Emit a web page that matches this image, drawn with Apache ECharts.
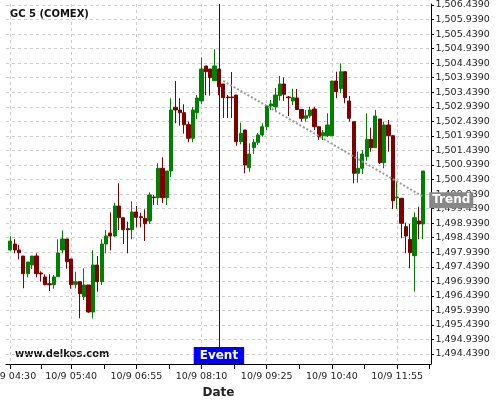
<!DOCTYPE html>
<html>
<head>
<meta charset="utf-8">
<script src="https://cdn.jsdelivr.net/npm/echarts@6/dist/echarts.min.js"></script>
<style>html,body{margin:0;padding:0;background:#fff}#c{width:500px;height:400px}</style>
</head>
<body>
<div id="c"></div>
<script>
const times = ["04:30","04:35","04:40","04:45","04:50","04:55","05:00","05:05","05:10","05:15",
"05:20","05:25","05:30","05:35","05:40","05:45","05:50","05:55","06:00","06:05",
"06:10","06:15","06:20","06:25","06:30","06:35","06:40","06:45","06:50","06:55",
"07:00","07:05","07:10","07:15","07:20","07:25","07:30","07:35","07:40","07:45",
"07:50","07:55","08:00","08:05","08:10","08:15","08:20","08:25","08:30","08:35",
"08:40","08:45","08:50","08:55","09:00","09:05","09:10","09:15","09:20","09:25",
"09:30","09:35","09:40","09:45","09:50","09:55","10:00","10:05","10:10","10:15",
"10:20","10:25","10:30","10:35","10:40","10:45","10:50","10:55","11:00","11:05",
"11:10","11:15","11:20","11:25","11:30","11:35","11:40","11:45","11:50","11:55",
"12:00","12:05","12:10","12:15","12:20","12:25"];

const openV = [1498.015,1498.221,1498.015,1497.808,1497.200,1497.499,1497.808,1497.224,1497.086,1496.856,
1496.822,1497.097,1498.015,1498.393,1497.705,1496.835,1496.925,1496.409,1496.811,1495.883,
1497.499,1496.925,1498.221,1498.599,1498.496,1499.528,1499.125,1498.747,1498.713,1499.321,
1499.160,1499.105,1499.012,1499.837,1499.813,1500.824,1499.813,1500.731,1502.922,1502.829,
1502.736,1502.323,1501.856,1502.736,1503.138,1504.342,1504.238,1503.836,1504.238,1503.723,
1503.276,1503.276,1503.344,1501.739,1502.141,1500.845,1501.532,1501.718,1501.969,1502.254,
1502.966,1502.942,1503.320,1503.723,1503.276,1503.138,1503.241,1502.846,1502.543,1502.633,
1502.863,1502.254,1501.945,1501.945,1501.945,1503.826,1503.568,1504.146,1503.138,1502.426,
1500.652,1500.824,1501.223,1501.821,1501.532,1502.519,1501.017,1502.313,1501.945,1499.813,
1499.792,1498.816,1498.383,1497.819,1499.012,1498.909];

const closeV = [1498.324,1498.015,1497.922,1497.200,1497.602,1497.808,1497.200,1497.190,1496.822,1496.822,
1497.086,1497.912,1498.393,1497.612,1496.822,1496.925,1496.512,1496.811,1495.883,1497.499,
1496.925,1498.221,1498.496,1498.496,1499.528,1499.125,1498.713,1498.713,1499.321,1499.139,
1499.125,1498.919,1499.906,1499.813,1500.824,1499.813,1500.731,1502.829,1502.829,1502.736,
1502.323,1501.856,1502.829,1503.241,1504.238,1504.146,1503.939,1504.342,1503.630,1503.252,
1503.252,1503.252,1501.739,1502.027,1500.937,1501.316,1501.718,1501.969,1502.254,1502.966,
1503.035,1503.344,1503.723,1503.368,1503.252,1503.252,1502.846,1502.543,1502.633,1502.829,
1502.254,1501.911,1502.048,1502.313,1503.826,1503.458,1504.146,1503.252,1502.543,1500.652,
1500.824,1501.316,1501.821,1501.532,1502.622,1501.017,1502.313,1501.945,1499.710,1499.837,
1498.933,1498.496,1497.922,1499.125,1498.909,1500.731];

const lowV = [1497.991,1497.901,1497.695,1496.698,1497.076,1497.361,1497.076,1496.925,1496.801,1496.605,
1496.684,1497.097,1497.901,1497.372,1496.684,1496.698,1495.666,1496.295,1495.859,1495.666,
1496.581,1496.811,1497.901,1498.004,1498.472,1498.702,1498.221,1497.901,1498.383,1498.795,
1498.795,1498.324,1498.909,1499.562,1499.562,1499.631,1499.562,1500.525,1502.371,1502.289,
1502.014,1501.718,1501.718,1502.509,1503.025,1503.334,1503.320,1503.836,1503.344,1502.554,
1502.554,1502.554,1501.601,1501.649,1500.652,1500.707,1501.316,1501.625,1501.911,1502.141,
1502.829,1502.805,1503.148,1503.145,1502.622,1503.001,1502.829,1502.426,1502.426,1502.554,
1502.141,1501.797,1501.797,1501.900,1501.935,1503.231,1503.403,1503.059,1502.426,1500.308,
1500.329,1500.628,1501.085,1501.395,1501.532,1500.972,1500.824,1501.395,1499.425,1499.425,
1498.417,1497.901,1497.385,1496.581,1498.383,1498.383];

const highV = [1498.486,1498.383,1498.197,1497.808,1497.602,1497.808,1497.901,1497.282,1497.179,1497.179,
1497.155,1498.383,1498.692,1498.393,1497.705,1497.269,1496.925,1497.385,1496.811,1498.004,
1497.808,1498.383,1498.702,1499.311,1499.641,1500.308,1499.125,1498.988,1499.689,1499.528,
1499.297,1499.414,1499.999,1499.906,1500.996,1501.202,1500.731,1503.231,1503.826,1503.231,
1503.025,1502.426,1502.922,1503.344,1504.634,1504.342,1504.238,1504.916,1504.238,1503.723,
1503.344,1504.135,1503.344,1502.392,1502.141,1501.684,1501.831,1502.038,1502.371,1503.001,
1503.172,1503.585,1503.998,1503.946,1503.310,1503.561,1503.551,1502.846,1502.829,1502.942,
1502.942,1502.254,1502.141,1502.715,1503.826,1504.146,1504.434,1504.146,1503.310,1502.426,
1501.395,1501.453,1502.715,1502.220,1502.829,1502.519,1502.426,1502.485,1501.945,1500.363,
1499.792,1498.953,1498.909,1499.311,1499.504,1500.731];

const xTickLabels = ["10/9 04:30","10/9 05:40","10/9 06:55","10/9 08:10","10/9 09:25","10/9 10:40","10/9 11:55"];
const eventTime = "08:30";
const eventText = "Event";
const trendStart = ["08:35", 1503.83];
const trendEnd = ["12:25", 1499.85];
const trendText = "Trend";
const titleText = "GC 5 (COMEX)";
const sourceText = "www.delkos.com";
const xName = "Date";

const BASE = 4 * 60 + 25; // axis origin 04:25
function tmin(t) { const p = t.split(':'); return (+p[0]) * 60 + (+p[1]) - BASE; }
function fmtY(v) {
  const s = v.toFixed(4); const p = s.split('.');
  return p[0].replace(/\B(?=(\d{3})+(?!\d))/g, ',') + '.' + p[1];
}
const majorVals = xTickLabels.map(l => tmin(l.split(' ')[1]));
const labelMap = {}; majorVals.forEach((v, i) => labelMap[v] = xTickLabels[i]);
const minorVals = [];
for (let i = 0; i < majorVals.length; i++) {
  const next = i + 1 < majorVals.length ? majorVals[i + 1] : majorVals[i] + 75;
  minorVals.push((majorVals[i] + next) / 2);
}
const candles = times.map((t, i) => [tmin(t), openV[i], closeV[i], lowV[i], highV[i]]);

const FONT = 'DejaVu Sans';
const chart = echarts.init(document.getElementById('c'), null, { renderer: 'canvas' });
chart.setOption({
  animation: false,
  backgroundColor: '#fff',
  textStyle: { fontFamily: FONT },
  title: { text: titleText, left: 10, top: 9, padding: 0,
    textStyle: { fontFamily: FONT, fontSize: 10, fontWeight: 'bold', color: '#111' } },
  graphic: [{ type: 'text', left: 15, top: 349, silent: true,
    style: { text: sourceText, fontFamily: FONT, fontSize: 10, fontWeight: 'bold', fill: '#111' } }],
  grid: [
    { left: 6, right: 69, top: 4, bottom: 36, outerBoundsMode: 'none', containLabel: false },
    { left: 6, right: 69, top: 5, bottom: 46, outerBoundsMode: 'none', containLabel: false }
  ],
  xAxis: [
    { type: 'value', gridIndex: 0, min: 0, max: 489,
      axisLine: { show: true, onZero: false, lineStyle: { color: '#000', width: 1 } },
      axisTick: { show: true, customValues: majorVals, length: 5, lineStyle: { color: '#000' } },
      axisLabel: { show: true, customValues: majorVals, formatter: v => labelMap[v] || '',
        fontFamily: FONT, fontSize: 9.5, color: '#222', margin: 8, hideOverlap: false },
      splitLine: { show: true, lineStyle: { color: '#ccc', type: [3, 3], width: 1 } },
      name: xName, nameLocation: 'middle', nameGap: 21,
      nameTextStyle: { fontFamily: FONT, fontSize: 12, fontWeight: 'bold', color: '#222' } },
    { type: 'value', gridIndex: 1, min: 0, max: 489, offset: 10,
      axisLine: { show: false, onZero: false },
      axisTick: { show: true, customValues: minorVals, length: 5, lineStyle: { color: '#000' } },
      axisLabel: { show: false },
      splitLine: { show: false } }
  ],
  yAxis: [
    { type: 'value', gridIndex: 0, position: 'right', min: 1494.095, max: 1506.473, scale: true,
      axisLine: { show: true, onZero: false, lineStyle: { color: '#000', width: 1 } },
      axisTick: { show: false }, axisLabel: { show: false }, splitLine: { show: false } },
    { type: 'value', gridIndex: 1, position: 'right', min: 1494.439, max: 1506.439, interval: 0.5, scale: true,
      axisLine: { show: false, onZero: false },
      axisTick: { show: true, length: 3, lineStyle: { color: '#000' } },
      axisLabel: { show: true, formatter: fmtY, fontFamily: FONT, fontSize: 9.5, color: '#222', margin: 4.5 },
      splitLine: { show: true, lineStyle: { color: '#ccc', type: [3, 3], width: 1 } } }
  ],
  series: [{
    type: 'candlestick', xAxisIndex: 0, yAxisIndex: 0,
    data: candles, encode: { x: 0, y: [1, 2, 3, 4] },
    barWidth: 3.7,
    itemStyle: { color: '#008000', color0: '#800000', borderColor: '#008000', borderColor0: '#800000', borderWidth: 1 },
    markLine: {
      silent: true, animation: false, symbol: 'none',
      data: [
        [{ coord: [tmin(trendStart[0]), trendStart[1]],
           lineStyle: { color: '#999', width: 2, type: [2, 2] },
           label: { show: true, position: 'end', distance: 7, formatter: trendText,
             backgroundColor: '#888', color: '#fff', fontFamily: FONT, fontSize: 12, fontWeight: 'bold',
             padding: [2, 3], lineHeight: 12 } },
         { coord: [tmin(trendEnd[0]), trendEnd[1]] }],
        { xAxis: tmin(eventTime),
          lineStyle: { color: '#0000ff', width: 1, type: 'solid' },
          label: { show: true, position: 'start', distance: -17, formatter: eventText,
            backgroundColor: '#0000ff', color: '#fff', fontFamily: FONT, fontSize: 12, fontWeight: 'bold',
            padding: [2, 6], lineHeight: 13 } }
      ]
    }
  }]
});
</script>
</body>
</html>
